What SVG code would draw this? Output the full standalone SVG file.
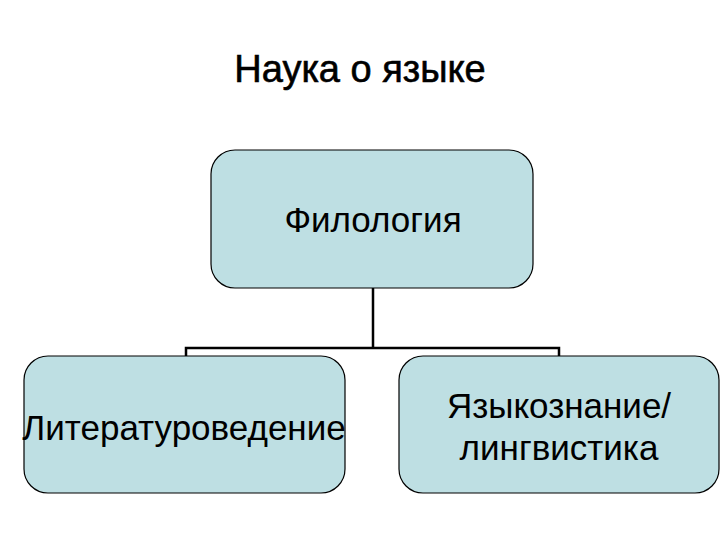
<svg xmlns="http://www.w3.org/2000/svg" width="720" height="540" viewBox="0 0 720 540">
<style>
.box{fill:#BEDFE3;stroke:#000;stroke-width:1.2}
.t{font-family:"Liberation Sans",Arial,sans-serif;font-size:35px;fill:#000;text-anchor:middle}
.c{fill:none;stroke:#000;stroke-width:2.5}
</style>
<rect width="720" height="540" fill="#fff"/>
<text x="360" y="82" class="t" style="font-size:38px;stroke:#000;stroke-width:0.6">Наука о языке</text>
<g id="connectors">
<path class="c" d="M373,288 V348 M186,356 V348 H559 V356"/>
</g>
<g id="n1"><rect class="box" x="211" y="150" width="322" height="138" rx="24"/><text class="t" x="373" y="232">Филология</text></g>
<g id="n2"><rect class="box" x="24" y="356" width="321" height="137" rx="24"/><text class="t" x="184" y="440">Литературоведение</text></g>
<g id="n3"><rect class="box" x="399" y="356" width="320" height="137" rx="24"/><text class="t" x="559" y="418">Языкознание/</text><text class="t" x="559" y="460">лингвистика</text></g>
</svg>
